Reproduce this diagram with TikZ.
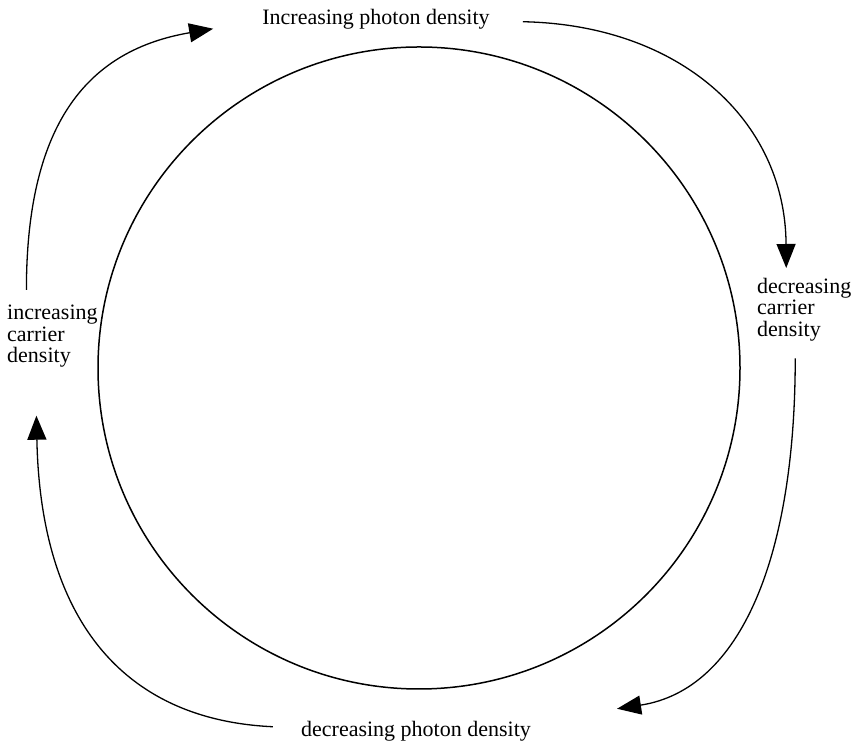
\documentclass[tikz,border=0pt]{standalone}
\usepackage{fontspec}
\setmainfont{Liberation Serif}
\usetikzlibrary{arrows.meta}

\begin{document}
\begin{tikzpicture}[x=1pt,y=1pt,>={Triangle[length=24pt,width=19pt]},
  cycle arrow/.style={->,line width=1.3pt},
  label node/.style={inner sep=0pt,font=\fontsize{22}{21.5}\selectfont}]

  \useasboundingbox (0,0) rectangle (859,743);

  % the closed loop
  \node[draw,circle,line width=1.5pt,minimum size=642pt,inner sep=0pt] (loop) at (419,375) {};

  \node[label node,anchor=base] (top) at (376,718) {Increasing photon density};
  \node[label node,anchor=north west,align=left] (rgt) at (757,465) {decreasing\\carrier\\density};
  \node[label node,anchor=base] (bot) at (416,6) {decreasing photon density};
  \node[label node,anchor=north west,align=left] (lft) at (7,438) {increasing\\carrier\\density};

  \draw[cycle arrow] ([shift={(-26,15)}]lft.north)
    .. controls +(0,170) and +(-123,-21) .. ([shift={(-49,-9)}]top.west);
  \draw[cycle arrow] ([shift={(33,-2)}]top.east)
    .. controls +(157,-3) and +(-1,148) .. ([shift={(-18,10)}]rgt.north);
  \draw[cycle arrow] ([shift={(-9,-17)}]rgt.south)
    .. controls +(0,-198) and +(124,19) .. ([shift={(86,23)}]bot.east);
  \draw[cycle arrow] ([shift={(-28,5)}]bot.west)
    .. controls +(-153,7) and +(4,-200) .. ([shift={(-16,-48)}]lft.south);

\end{tikzpicture}
\end{document}
